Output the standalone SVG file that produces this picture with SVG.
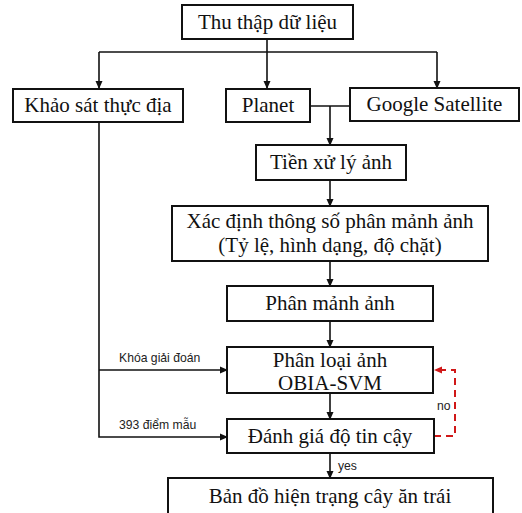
<svg xmlns="http://www.w3.org/2000/svg" width="522" height="513" viewBox="0 0 522 513">
<style>
.box{fill:#fff;stroke:#111;stroke-width:2}
.t{font-family:"Liberation Serif","Times New Roman",serif;font-size:21px;fill:#111;text-anchor:middle}
.lbl{font-family:"Liberation Sans",Arial,sans-serif;font-size:12.2px;fill:#222}
.ln{fill:none;stroke:#111;stroke-width:1.6}
.red{fill:none;stroke:#d01818;stroke-width:2;stroke-dasharray:7,5}
</style>
<defs>
<marker id="ah" markerWidth="8" markerHeight="8" refX="7" refY="4" orient="auto" markerUnits="userSpaceOnUse"><path d="M0,0.5 L8,4 L0,7.5 Z" fill="#111"/></marker>
<marker id="ahr" markerWidth="8" markerHeight="8" refX="7" refY="4" orient="auto" markerUnits="userSpaceOnUse"><path d="M0,0.5 L8,4 L0,7.5 Z" fill="#d01818"/></marker>
</defs>
<g id="connectors">
<path class="ln" d="M267,39 V52"/>
<path class="ln" d="M99,52 H437"/>
<path class="ln" d="M99,52 V88" marker-end="url(#ah)"/>
<path class="ln" d="M267,52 V88" marker-end="url(#ah)"/>
<path class="ln" d="M437,52 V88" marker-end="url(#ah)"/>
<path class="ln" d="M310,106 H350"/>
<path class="ln" d="M330,106 V145" marker-end="url(#ah)"/>
<path class="ln" d="M330,180 V206" marker-end="url(#ah)"/>
<path class="ln" d="M330,261 V286" marker-end="url(#ah)"/>
<path class="ln" d="M330,321 V347" marker-end="url(#ah)"/>
<path class="ln" d="M330,393 V419" marker-end="url(#ah)"/>
<path class="ln" d="M330,453 V478" marker-end="url(#ah)"/>
<path class="ln" d="M99,122 V437 H227" marker-end="url(#ah)"/>
<path class="ln" d="M99,370 H227" marker-end="url(#ah)"/>
<path class="red" d="M434,436 H455 V370 H435" marker-end="url(#ahr)"/>
<text class="lbl" x="119" y="362">Khóa giải đoán</text>
<text class="lbl" x="119" y="429">393 điểm mẫu</text>
<text class="lbl" x="437" y="410">no</text>
<text class="lbl" x="338" y="470">yes</text>
</g>
<g id="n1"><rect class="box" x="182" y="5" width="171" height="34"/><text class="t" x="267.5" y="29">Thu thập dữ liệu</text></g>
<g id="n2"><rect class="box" x="13" y="89" width="170" height="33"/><text class="t" x="98" y="112">Khảo sát thực địa</text></g>
<g id="n3"><rect class="box" x="226" y="89" width="84" height="33"/><text class="t" x="268" y="112">Planet</text></g>
<g id="n4"><rect class="box" x="350" y="88" width="169" height="33"/><text class="t" x="434.5" y="111">Google Satellite</text></g>
<g id="n5"><rect class="box" x="256" y="145" width="150" height="35"/><text class="t" x="331" y="169">Tiền xử lý ảnh</text></g>
<g id="n6"><rect class="box" x="172" y="206" width="316" height="55"/><text class="t" x="330" y="228">Xác định thông số phân mảnh ảnh</text><text class="t" x="330" y="252">(Tỷ lệ, hình dạng, độ chặt)</text></g>
<g id="n7"><rect class="box" x="227" y="286" width="206" height="35"/><text class="t" x="330" y="310">Phân mảnh ảnh</text></g>
<g id="n8"><rect class="box" x="227" y="347" width="206" height="46"/><text class="t" x="330" y="367">Phân loại ảnh</text><text class="t" x="330" y="390">OBIA-SVM</text></g>
<g id="n9"><rect class="box" x="227" y="419" width="207" height="34"/><text class="t" x="330" y="443">Đánh giá độ tin cậy</text></g>
<g id="n10"><rect class="box" x="168" y="478" width="325" height="40"/><text class="t" x="330" y="503">Bản đồ hiện trạng cây ăn trái</text></g>
</svg>
